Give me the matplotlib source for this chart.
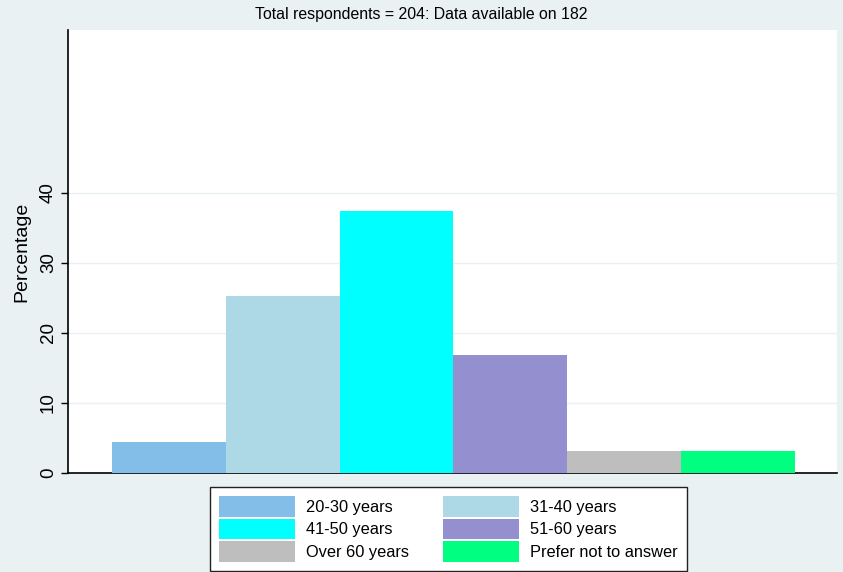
import matplotlib
matplotlib.use("Agg")
import matplotlib.pyplot as plt
from matplotlib.patches import Patch

categories = ["20-30 years", "31-40 years", "41-50 years", "51-60 years",
              "Over 60 years", "Prefer not to answer"]
percentages = [4.4, 25.3, 37.4, 16.8, 3.1, 3.1]
colors = ["#83BEE8", "#ADD8E6", "#00FFFF", "#9490D0", "#BEBEBE", "#00FF80"]
yticks = [0, 10, 20, 30, 40]
title = "Total respondents = 204: Data available on 182"
ylabel = "Percentage"

BG = "#EAF1F3"
W, H = 843, 572
fig = plt.figure(figsize=(W / 100, H / 100), dpi=100, facecolor=BG)
ax = fig.add_axes([68 / W, (H - 472.8) / H, (837 - 68) / W, (472.8 - 30) / H])
ax.set_facecolor("white")

xs = list(range(len(categories)))
ax.bar(xs, percentages, width=1.0, color=colors, edgecolor="none", zorder=3)

ax.set_xlim(-0.887, 5.87)
ax.set_ylim(0, 63.26)
ax.set_yticks(yticks)
ax.set_yticklabels([str(t) for t in yticks], rotation=90, va="center",
                   fontsize=13.5, family="Liberation Sans")
ax.set_xticks([])
ax.yaxis.grid(True, color="#EAF1F3", linewidth=1.0, zorder=0)
ax.tick_params(axis="y", length=5, width=1, color="black", pad=3)
for s in ["top", "right"]:
    ax.spines[s].set_visible(False)
for s in ["left", "bottom"]:
    ax.spines[s].set_color("black")
    ax.spines[s].set_linewidth(1.2)
ax.set_ylabel(ylabel, fontsize=14, family="Liberation Sans", labelpad=7)

fig.text(0.5, 1 - 15 / H, title, ha="center", va="center", fontsize=11.4,
         family="Liberation Sans")

handles = [Patch(facecolor=c, edgecolor="none") for c in colors]
order = [0, 2, 4, 1, 3, 5]
leg = fig.legend([handles[i] for i in order], [categories[i] for i in order],
                 ncol=2, loc="upper left", bbox_to_anchor=(210 / W, 1 - 487 / H),
                 frameon=True, fancybox=False, framealpha=1.0,
                 prop={"family": "Liberation Sans", "size": 11.8},
                 handlelength=4.63, handleheight=1.56, handletextpad=0.68,
                 labelspacing=0.12, columnspacing=2.1, borderpad=0.55,
                 borderaxespad=0)
leg.get_frame().set_edgecolor("#222222")
leg.get_frame().set_linewidth(1.0)
leg.get_frame().set_facecolor("white")

fig.savefig("out.png", dpi=100, facecolor=BG)
